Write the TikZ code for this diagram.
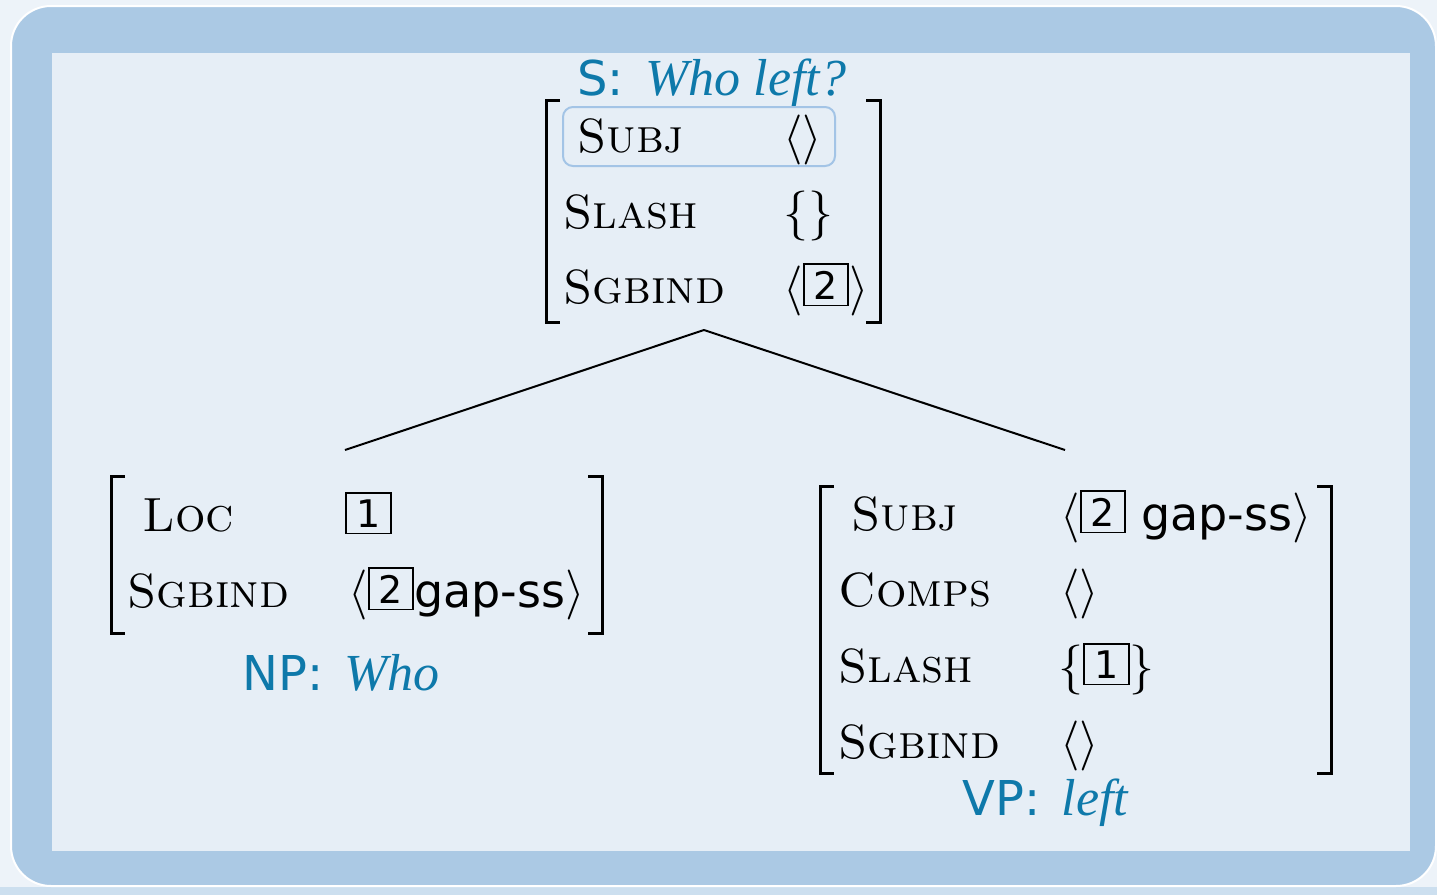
\RequirePackage{fix-cm}
\documentclass[tikz,border=0pt]{standalone}
\usepackage{fontspec}
\setsansfont{DejaVu Sans}
\newfontfamily\lblserif{Liberation Serif}
\usepackage{amsmath}
\usepackage{tikz}

\definecolor{bgcol}{HTML}{EDF3F9}
\definecolor{shadecol}{HTML}{CCDFEF}
\definecolor{framecol}{HTML}{ABC9E4}
\definecolor{panelcol}{HTML}{E6EEF6}
\definecolor{lblblue}{HTML}{0E79AA}
\definecolor{hlcol}{HTML}{A3C4E6}

\newcommand{\tagbox}[1]{{\setlength{\fboxsep}{2.8pt}\setlength{\fboxrule}{0.9pt}\raisebox{2pt}{\fbox{\hspace{1.8pt}\sffamily\fontsize{19}{20}\selectfont #1\hspace{1.8pt}}}}}
\newcommand{\lblword}[1]{\hspace{3pt}{\lblserif\itshape\fontsize{26}{30}\selectfont #1}}

\tikzset{
	feat/.style={anchor=base west, inner sep=0pt, font=\fontsize{24}{30}\selectfont\scshape},
	val/.style={anchor=base west, inner sep=0pt, font=\fontsize{25}{30}\selectfont},
	lbl/.style={anchor=base west, inner sep=0pt, text=lblblue, font=\fontsize{24}{28}\selectfont\sffamily},
	brack/.style={line width=1.5pt, black},
	branch/.style={line width=1pt, black}
}

\begin{document}
\begin{tikzpicture}[x=0.5pt, y=-0.5pt]
			\useasboundingbox (0,0) rectangle (1437,895);
			% background and frame
			\fill[bgcol] (0,0) rectangle (1437,895);
			\fill[shadecol] (0,887) rectangle (1437,895);
			\fill[framecol, rounded corners=20pt] (11,6) rectangle (1436,886);
			\draw[white, line width=1pt, rounded corners=20pt] (11,6) rectangle (1436,886);
			\fill[panelcol] (52,53) rectangle (1410,851);

			% S: top avm
			\node [lbl] (S-lbl) at (577,95) {S: \lblword{Who left?}};
			\draw [hlcol, line width=1pt, rounded corners=5pt] (563,107) rectangle (835,166);
			\node [feat] (S-subj) at (577,152) {Subj};
			\node [val] (S-subj-v) at (783,152) {$\langle\rangle$};
			\node [feat] (S-slash) at (563,228) {Slash};
			\node [val] (S-slash-v) at (783,228) {$\{\}$};
			\node [feat] (S-sgbind) at (563,303) {Sgbind};
			\node [val] (S-sgbind-v) at (783,303) {$\langle$\tagbox{2}$\rangle$};
			\draw [brack] (560,100) -- (546,100) -- (546,322) -- (560,322);
			\draw [brack] (866,100) -- (880,100) -- (880,322) -- (866,322);

			% branches
			\coordinate (S-foot) at (704,330);
			\coordinate (NP-top) at (345,450);
			\coordinate (VP-top) at (1065,450);
			\draw [branch] (S-foot) -- (NP-top);
			\draw [branch] (S-foot) -- (VP-top);

			% NP: left avm
			\node [feat] (NP-loc) at (142,531) {Loc};
			\node [val] (NP-loc-v) at (345,531) {\tagbox{1}};
			\node [feat] (NP-sgbind) at (127,607) {Sgbind};
			\node [val] (NP-sgbind-v) at (348,607) {$\langle$\tagbox{2}{\sffamily\fontsize{23}{28}\selectfont gap-ss}$\rangle$};
			\draw [brack] (125,476) -- (111,476) -- (111,633) -- (125,633);
			\draw [brack] (588,476) -- (602,476) -- (602,633) -- (588,633);
			\node [lbl] (NP-lbl) at (242,690) {NP: \lblword{Who}};

			% VP: right avm
			\node [feat] (VP-subj) at (851,530) {Subj};
			\node [val] (VP-subj-v) at (1060,530) {$\langle$\tagbox{2} {\sffamily\fontsize{23}{28}\selectfont gap-ss}$\rangle$};
			\node [feat] (VP-comps) at (838,606) {Comps};
			\node [val] (VP-comps-v) at (1060,606) {$\langle\rangle$};
			\node [feat] (VP-slash) at (838,682) {Slash};
			\node [val] (VP-slash-v) at (1058,682) {$\{$\tagbox{1}$\}$};
			\node [feat] (VP-sgbind) at (838,758) {Sgbind};
			\node [val] (VP-sgbind-v) at (1060,758) {$\langle\rangle$};
			\draw [brack] (834,486) -- (820,486) -- (820,773) -- (834,773);
			\draw [brack] (1317,486) -- (1331,486) -- (1331,773) -- (1317,773);
			\node [lbl] (VP-lbl) at (962,815) {VP: \lblword{left}};
\end{tikzpicture}
\end{document}
